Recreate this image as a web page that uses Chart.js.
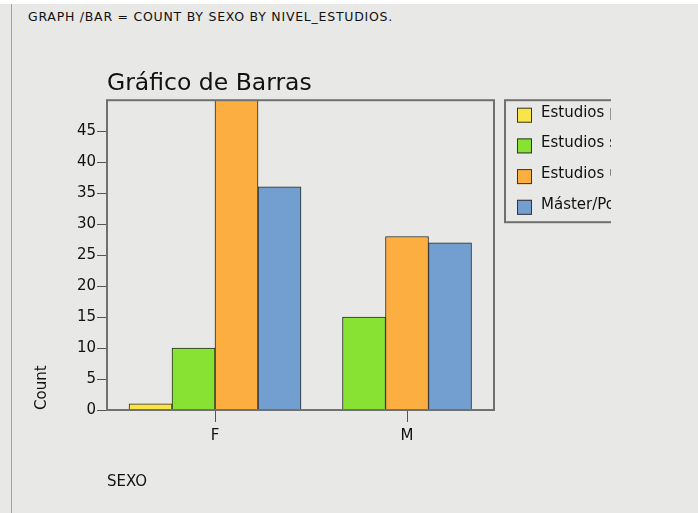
<!DOCTYPE html>
<html>
<head>
<meta charset="utf-8">
<script src="https://cdn.jsdelivr.net/npm/chart.js@4.4.0/dist/chart.umd.min.js"></script>
<style>
  html, body { margin: 0; padding: 0; background: #e8e8e6; }
  body { width: 698px; height: 513px; position: relative; overflow: hidden; }
  #strip { position: absolute; left: 0; top: 0; width: 698px; height: 4px; background: #ffffff; }
  #edge { position: absolute; left: 11px; top: 4px; width: 1px; height: 509px; background: #a3a3a3; }
  #syntax { position: absolute; left: 28px; top: 9px; font: 12.5px "DejaVu Sans", sans-serif; letter-spacing: 0.75px; color: #111; white-space: nowrap; }
  #wrap { position: absolute; left: 0; top: 0; width: 698px; height: 513px; }
</style>
</head>
<body>
<div id="strip"></div>
<div id="edge"></div>
<div id="syntax">GRAPH /BAR = COUNT BY SEXO BY NIVEL_ESTUDIOS.</div>
<div id="wrap"><canvas id="grafico" width="698" height="513"></canvas></div>
<script>
// categorias del eje X y niveles de estudio (leyenda)
const sexo = ['F', 'M'];
const niveles = ['Estudios primarios', 'Estudios secundarios', 'Estudios universitarios', 'Máster/Postgrado'];

// conteos (null = sin casos, no ocupa hueco)
const conteoPrimarios = [1, null];
const conteoSecundarios = [10, 15];
const conteoUniversitarios = [50, 28];
const conteoMaster = [36, 27];

const yTicks = [0, 5, 10, 15, 20, 25, 30, 35, 40, 45];

const colores = ['#f9e547', '#88e234', '#fcae40', '#729fcf'];
const fuente = '"DejaVu Sans", sans-serif';

const series = [conteoPrimarios, conteoSecundarios, conteoUniversitarios, conteoMaster];

// marco del area de trazado
const marco = {
    id: 'marco',
    afterDatasetsDraw(chart) {
        const { ctx, chartArea } = chart;
        ctx.save();
        ctx.strokeStyle = '#707070';
        ctx.lineWidth = 2;
        ctx.strokeRect(chartArea.left, chartArea.top, chartArea.width, chartArea.height);
        ctx.restore();
    }
};

// leyenda estilo SPSS, recortada por la derecha como en la imagen
const leyenda = {
    id: 'leyenda',
    afterDraw(chart) {
        const { ctx, chartArea } = chart;
        const x0 = chartArea.right + 11;
        const y0 = chartArea.top;
        ctx.save();
        ctx.beginPath();
        ctx.rect(x0 - 2, y0 - 2, 611 - x0 + 2, 130);
        ctx.clip();
        ctx.strokeStyle = '#707070';
        ctx.lineWidth = 2;
        ctx.strokeRect(x0, y0, 220, 122);
        chart.data.datasets.forEach((ds, i) => {
            const y = y0 + 12.5 + i * 30.7;
            ctx.fillStyle = ds.backgroundColor;
            ctx.fillRect(x0 + 12, y - 5, 15, 15);
            ctx.strokeStyle = '#333';
            ctx.lineWidth = 1;
            ctx.strokeRect(x0 + 12.5, y - 4.5, 14, 14);
            ctx.fillStyle = '#111';
            ctx.font = '15px ' + fuente;
            ctx.textBaseline = 'middle';
            ctx.fillText(ds.label, x0 + 36, y);
        });
        ctx.restore();
    }
};

const ctx = document.getElementById('grafico').getContext('2d');

new Chart(ctx, {
    type: 'bar',
    data: {
        datasets: series.map((vals, i) => ({
            label: niveles[i],
            data: vals.map((v, j) => ({ x: j, y: v })),
            backgroundColor: colores[i],
            borderColor: '#2a2a2a',
            borderWidth: 1,
            barThickness: 43,
            skipNull: true
        }))
    },
    options: {
        responsive: false,
        animation: false,
        layout: { padding: { left: 28, right: 204, top: 60, bottom: 10 } },
        plugins: {
            legend: { display: false },
            tooltip: { enabled: false },
            title: {
                display: true,
                text: 'Gráfico de Barras',
                align: 'start',
                fullSize: false,
                color: '#111',
                font: { family: fuente, size: 23.5, weight: 'normal' },
                padding: { top: 10, bottom: 2 }
            }
        },
        scales: {
            x: {
                type: 'linear',
                min: -0.5625,
                max: 1.453,
                offset: false,
                grid: { display: true, offset: false, drawOnChartArea: false, tickLength: 12, color: '#555' },
                border: { display: false },
                afterBuildTicks: scale => { scale.ticks = sexo.map((s, i) => ({ value: i })); },
                afterFit: scale => { scale.height = 93; },
                ticks: {
                    callback: v => sexo[v],
                    color: '#111',
                    padding: 5,
                    font: { family: fuente, size: 15 }
                },
                title: {
                    display: true,
                    text: 'SEXO',
                    align: 'start',
                    color: '#111',
                    font: { family: fuente, size: 15 },
                    padding: { top: 0, bottom: 12 }
                }
            },
            y: {
                min: 0,
                max: 50,
                grid: { display: true, drawOnChartArea: false, tickLength: 10, color: '#555' },
                border: { display: false },
                afterBuildTicks: scale => { scale.ticks = yTicks.map(v => ({ value: v })); },
                afterFit: scale => { scale.width = 79; },
                ticks: {
                    color: '#111',
                    padding: 1,
                    font: { family: fuente, size: 15 }
                },
                title: {
                    display: true,
                    text: 'Count',
                    align: 'start',
                    color: '#111',
                    font: { family: fuente, size: 15 },
                    padding: { top: 5, bottom: 0 }
                }
            }
        }
    },
    plugins: [marco, leyenda]
});
</script>
</body>
</html>
